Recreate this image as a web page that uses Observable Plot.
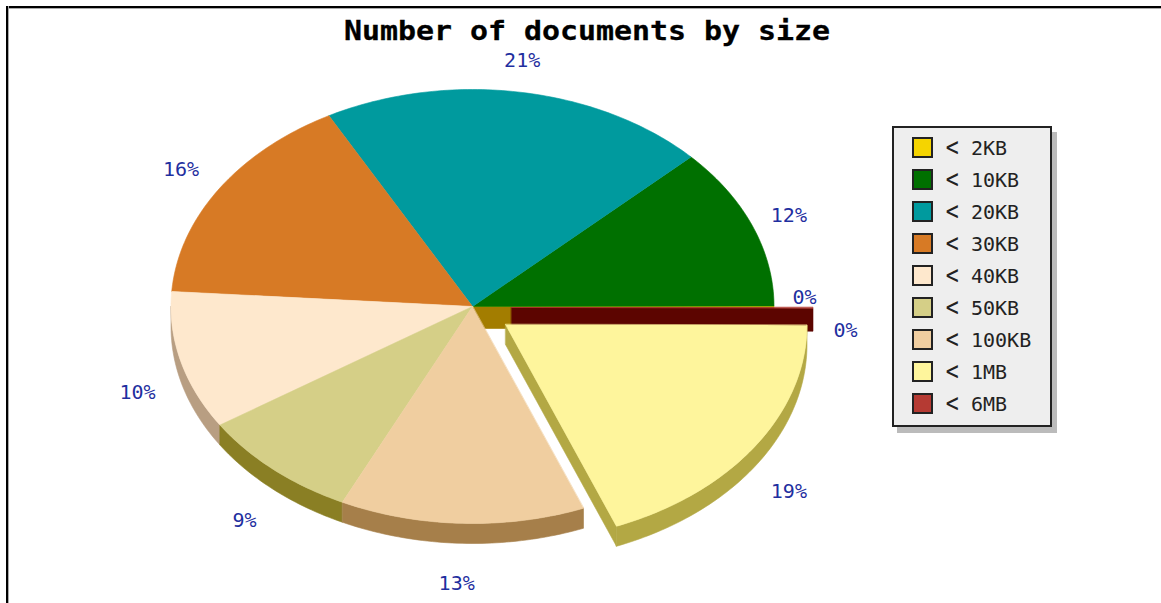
<!DOCTYPE html>
<html><head><meta charset="utf-8">
<script src="https://cdn.jsdelivr.net/npm/d3@7"></script>
<script src="https://cdn.jsdelivr.net/npm/@observablehq/plot@0.6"></script>
<style>
html,body{margin:0;padding:0;background:#fff;overflow:hidden}
#wrap{position:relative;width:1161px;height:603px;font-family:"DejaVu Sans Mono",monospace}
#wrap svg{display:block;position:absolute;left:0;top:0}
#frameT{position:absolute;left:6px;top:6px;right:0;height:2px;background:#000;border-bottom:1px solid #aaa}
#frameL{position:absolute;left:6px;top:6px;bottom:0;width:2px;background:#000;border-right:1px solid #aaa}
#title{position:absolute;left:287px;width:600px;top:14px;text-align:center;font-weight:bold;font-size:26px;line-height:34px;color:#000;transform:scaleX(1.15);-webkit-text-stroke:0.3px #000}
#legend{position:absolute;left:892px;top:126px;width:156px;height:297px;background:#eee;border:2px solid #222;box-shadow:5px 6px 0 #bbb}
.row{position:absolute;left:0;height:32px;width:156px;font-size:20px;line-height:32px;color:#222}
.sw{position:absolute;left:18px;top:4px;width:17px;height:17px;border:2px solid #222}
.lt{position:absolute;left:50px;top:-2px;font-size:27px;font-weight:200;transform:scaleX(0.8)}
.nm{position:absolute;left:77px;top:-1px}
</style></head><body>
<div id="wrap">
<div id="chart"></div>
<div id="frameT"></div><div id="frameL"></div>
<div id="title">Number of documents by size</div>
<div id="legend"></div>
</div>
<script>
const categories = ["< 2KB","< 10KB","< 20KB","< 30KB","< 40KB","< 50KB","< 100KB","< 1MB","< 6MB"];
const percents   = [0.03, 12.07, 20.8, 16, 10.3, 8.7, 13.1, 18.95, 0.05];
const percentLabels = ["0%","12%","21%","16%","10%","9%","13%","19%","0%"];

const topColors  = ["#f5d400","#007000","#009a9e","#d77a25","#fee8cd","#d5cf87","#f0cea0","#fef59c","#b53a33"];
const wallColors = ["#a37d00","#004a00","#006669","#8f5118","#b89e82","#8a7f24","#a67f4a","#b3a844","#5c0500"];

// layout of the extruded ellipse
const cx = 472, cy = 306, rx = 301.5, ry = 217, wall = 20;
const offsets = {"< 1MB":[33,18], "< 6MB":[39,1]};
const labelNudge = [[-11,-9],[-2,2],[-4,1],[-3,-2],[-3,-3],[-2,0],[-4,1],[0,0],[-9,23]];

const ux = px => (px - cx) / rx, uy = py => (cy - py) / ry;
const off = c => offsets[c] || [0,0];

let acc = 0;
const slices = categories.map((c,i)=>{
  const a0 = acc/100*2*Math.PI; acc += percents[i];
  return {c, i, a0, a1: acc/100*2*Math.PI};
});
function arc(s){
  const n = Math.max(2, Math.ceil((s.a1-s.a0)*60)), o = off(s.c), pts=[];
  for (let k=0;k<=n;k++){
    const a = s.a0+(s.a1-s.a0)*k/n;
    pts.push([Math.cos(a)+o[0]/rx, Math.sin(a)-o[1]/ry]);
  }
  return pts;
}
const apex = s => { const o=off(s.c); return [o[0]/rx,-o[1]/ry]; };
const drop = (h)=>h/ry;
const polys = [];
function add(id, key, pts){ pts.forEach(p=>polys.push({id,key,x:p[0],y:p[1]})); }

function cutFace(s, angle, h, suffix){
  const o=off(s.c), a=apex(s);
  const r=[Math.cos(angle)+o[0]/rx, Math.sin(angle)-o[1]/ry];
  add(s.c+suffix, s.c+" wall", [a,r,[r[0],r[1]-drop(h)],[a[0],a[1]-drop(h)]]);
}
function rimWall(s, from, to, h){
  const sub={...s,a0:from,a1:to};
  const pts=arc(sub);
  add(s.c+" rim", s.c+" wall", pts.concat(pts.slice().reverse().map(p=>[p[0],p[1]-drop(h)])));
}
function topFace(s){ add(s.c+" top", s.c, [apex(s)].concat(arc(s))); }

cutFace(slices[0], 0, 22, " back");
cutFace(slices[8], slices[8].a0, 23, " back");
topFace(slices[8]);
rimWall(slices[4], Math.PI, slices[4].a1, wall);
rimWall(slices[5], slices[5].a0, slices[5].a1, wall);
rimWall(slices[6], slices[6].a0, slices[6].a1, wall);
[0,1,2,3,4,5,6].forEach(i=>topFace(slices[i]));
cutFace(slices[7], slices[7].a0, wall, " cut");
rimWall(slices[7], slices[7].a0, slices[7].a1, wall);
topFace(slices[7]);

const labels = slices.map(s=>{
  const m=(s.a0+s.a1)/2, o=off(s.c), n=labelNudge[s.i];
  const below = Math.sin(m) < -0.1 ? 26 : 0;
  return {
    text: percentLabels[s.i],
    x: ux(cx + o[0] + 343*Math.cos(m) + n[0]),
    y: uy(cy + o[1] - 250*Math.sin(m) + below + n[1])
  };
});

const keys = categories.concat(categories.map(c=>c+" wall"));
const plot = Plot.plot({
  width:1161, height:603, margin:0,
  x:{domain:[-1,1], range:[cx-rx,cx+rx], axis:null},
  y:{domain:[-1,1], range:[cy+ry,cy-ry], axis:null},
  color:{domain:keys, range:topColors.concat(wallColors)},
  style:{background:"transparent"},
  marks:[
    Plot.line(polys,{x:"x",y:"y",z:"id",fill:"key",stroke:"key",strokeWidth:0.6,curve:"linear-closed"}),
    Plot.text(labels,{x:"x",y:"y",text:"text",fill:"#1f2f9f",fontSize:20,fontFamily:"DejaVu Sans Mono, monospace",textAnchor:"middle"})
  ]
});
document.getElementById("chart").appendChild(plot);

const legend=document.getElementById("legend");
categories.forEach((c,i)=>{
  const [lt,nm]=c.split(" ");
  const r=document.createElement("div"); r.className="row"; r.style.top=(5+32*i)+"px";
  const sw=document.createElement("div"); sw.className="sw"; sw.style.background=topColors[i];
  const a=document.createElement("span"); a.className="lt"; a.textContent=lt;
  const b=document.createElement("span"); b.className="nm"; b.textContent=nm;
  r.append(sw,a,b); legend.appendChild(r);
});
</script>
</body></html>
